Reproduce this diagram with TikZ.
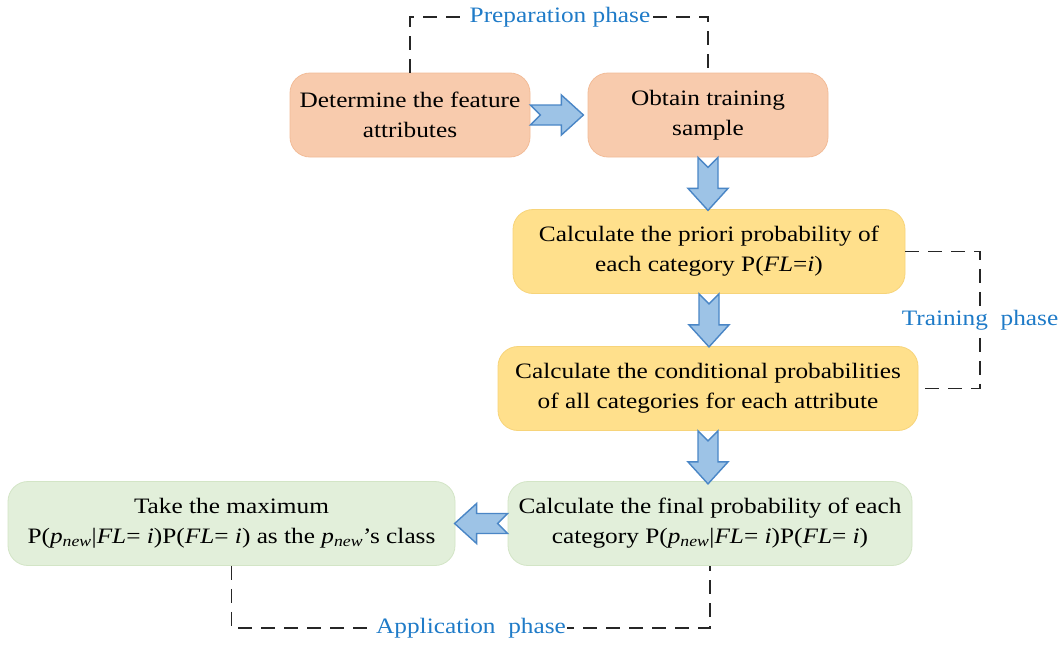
\documentclass[tikz,border=0pt]{standalone}
\usepackage{fontspec}
\setmainfont{Liberation Serif}[FakeStretch=1.15]
\usetikzlibrary{calc}
\definecolor{orfill}{HTML}{F8CBAD}
\definecolor{ordraw}{HTML}{F2BC98}
\definecolor{yefill}{HTML}{FFE08C}
\definecolor{yedraw}{HTML}{F7D47A}
\definecolor{grfill}{HTML}{E2EFDA}
\definecolor{grdraw}{HTML}{D3E5C6}
\definecolor{arfill}{HTML}{9DC3E6}
\definecolor{ardraw}{HTML}{4A86C6}
\definecolor{phblue}{HTML}{1F7BC8}
\tikzset{
  box/.style={rounded corners=20pt, line width=0.8pt, align=center, inner sep=0pt,
    minimum height=84pt, font=\fontsize{22}{30}\selectfont},
  orbox/.style={box, fill=orfill, draw=ordraw},
  yebox/.style={box, fill=yefill, draw=yedraw},
  grbox/.style={box, fill=grfill, draw=grdraw},
  phase/.style={draw=black!85, line width=1.9pt, dash pattern=on 14pt off 9pt},
  phlabel/.style={fill=white, text=phblue, inner sep=1pt, font=\fontsize{22}{26}\selectfont},
  pics/barrow/.style={code={
    \draw[fill=arfill, draw=ardraw, line width=1.4pt, line join=miter]
      (10,0) -- (0,10) -- (31,10) -- (31,20) -- (53,0) -- (31,-20) -- (31,-10) -- (0,-10) -- cycle;
  }}
}
\begin{document}
\begin{tikzpicture}[x=1pt, y=-1pt]
\useasboundingbox (0,0) rectangle (1063,645);
\fill[white] (0,0) rectangle (1063,645);

\node[orbox, minimum width=240pt] (b1) at (410,115) {Determine the feature\\attributes};
\node[orbox, minimum width=240pt] (b2) at (708,115) {Obtain training\\sample};
\node[yebox, minimum width=392pt] (b3) at (709,251.5) {Calculate the priori probability of\\each category P(\textit{FL}=\textit{i})};
\node[yebox, minimum width=420pt] (b4) at (708,388.5) {Calculate the conditional probabilities\\of all categories for each attribute};
\node[grbox, minimum width=404pt] (b5) at (710,523.5) {Calculate the final probability of each\\category P(\textit{p}\textsubscript{\textit{new}}|\textit{FL}= \textit{i})P(\textit{FL}= \textit{i})};
\node[grbox, minimum width=447pt] (b6) at (231.5,523.5) {Take the maximum\\P(\textit{p}\textsubscript{\textit{new}}|\textit{FL}= \textit{i})P(\textit{FL}= \textit{i}) as the \textit{p}\textsubscript{\textit{new}}{\char"27}s class};

% block arrows
\pic at (b1.east) {barrow};
\pic[rotate=-90] at (b2.south) {barrow};
\pic[rotate=-90] at (b3.south) {barrow};
\pic[rotate=-90] at (b4.south) {barrow};
\pic[rotate=180] at (b5.west) {barrow};

% phase brackets
\coordinate (prepc) at (560,17);
\coordinate (trainc) at (980,320);
\coordinate (appc) at (471,628);
\draw[phase] (b1.north) -- (b1.north |- prepc) -- (b2.north |- prepc) -- (b2.north);
\draw[phase] (b3.east) -- (b3.east -| trainc) -- (b4.east -| trainc) -- (b4.east);
\draw[phase] (b6.south) -- (b6.south |- appc) -- (b5.south |- appc) -- (b5.south);
\node[phlabel] (prepl) at (prepc) {Preparation phase};
\node[phlabel] (trainl) at (trainc) {Training\ \ phase};
\node[phlabel] (appl) at (appc) {Application\ \ phase};
\end{tikzpicture}
\end{document}
